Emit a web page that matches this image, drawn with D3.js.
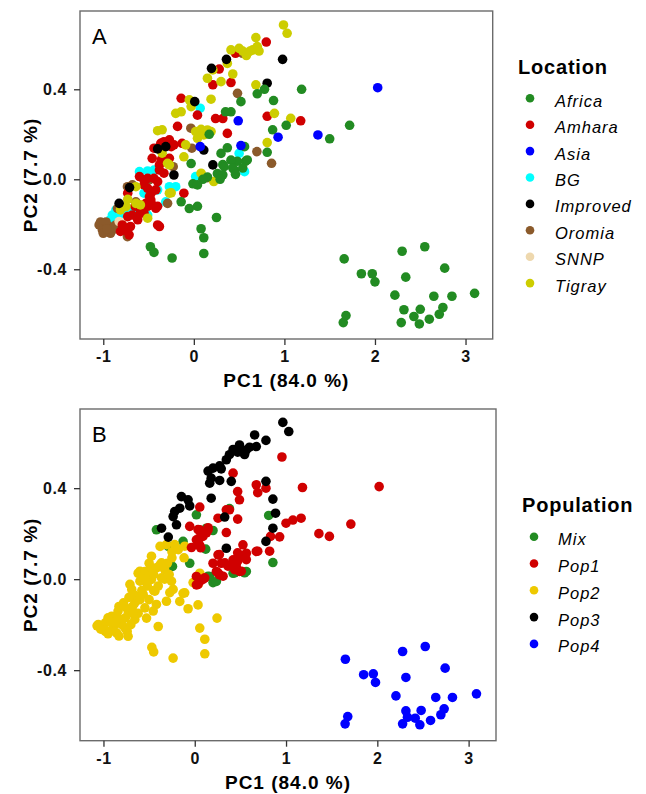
<!DOCTYPE html>
<html>
<head>
<meta charset="utf-8">
<script src="https://cdn.jsdelivr.net/npm/d3@7"></script>
<style>
  body { margin: 0; background: #fff; }
  text { font-family: "Liberation Sans", Arial, sans-serif; }
</style>
</head>
<body>
<div id="chart"></div>
<script>
// ---- data: PCA scores ----
var xTicks = [-1, 0, 1, 2, 3];
var yTicks = [-0.4, 0.0, 0.4];

// panel A, by location
var locationNames = ["Africa", "Amhara", "Asia", "BG", "Improved", "Oromia", "SNNP", "Tigray"];
var locationColors = ["#228B22", "#D00000", "#0000FF", "#00FFFF", "#000000", "#8B5A2B", "#EED8AE", "#CDCD00"];

var africa = [[1.19,0.40],[0.78,0.40],[0.70,0.38],[0.52,0.345],[0.88,0.35],[0.41,0.30],[0.35,0.30],[1.02,0.24],[0.87,0.22],[0.17,0.20],
  [0.81,0.12],[0.56,0.145],[0.57,0.08],[0.48,0.08],[0.30,0.115],[0.37,0.14],[0.41,0.085],[0.32,0.065],[0.45,0.04],[0.26,0.025],
  [0.15,0.01],[0.10,0.0],[-0.01,-0.02],[-0.03,0.07],[-0.14,-0.10],[-0.05,-0.13],[0.04,-0.12],[0.25,-0.17],[0.08,-0.22],[0.11,-0.26],
  [0.11,-0.33],[-0.48,-0.30],[-0.44,-0.325],[-0.24,-0.35],[1.50,0.18],[1.72,0.24],[0.59,0.086],[0.335,0.056],[0.43,0.05],[0.54,0.05],
  [0.46,0.022],[0.32,0.02],[0.29,0.0],[0.04,-0.025],
  [1.66,-0.354],[1.85,-0.42],[1.97,-0.42],[2.00,-0.456],[2.30,-0.32],[2.55,-0.30],[2.77,-0.395],[2.34,-0.435],[2.22,-0.515],[2.65,-0.52],
  [2.85,-0.52],[3.10,-0.507],[2.32,-0.58],[2.50,-0.578],[2.75,-0.57],[2.71,-0.60],[2.43,-0.61],[2.29,-0.637],[2.49,-0.643],[2.60,-0.622],
  [1.65,-0.637],[1.68,-0.606]];
var amhara = [[0.80,0.61],[0.46,0.56],[0.28,0.49],[0.21,0.42],[0.41,0.43],[-0.14,0.36],[0.04,0.285],[0.24,0.27],[0.32,0.27],[-0.18,0.235],
  [-0.33,0.167],[-0.27,0.175],[-0.22,0.153],[-0.13,0.16],[-0.44,0.138],[-0.36,0.086],[-0.46,0.093],[-0.55,-0.003],[-0.38,0.041],[-0.33,0.027],
  [-0.11,-0.062],[-0.42,-0.047],[-0.51,-0.04],[-0.475,-0.092],[-0.40,-0.12],[-0.51,-0.12],[-0.59,-0.15],[-0.38,-0.21],[-0.73,-0.062],[-0.70,-0.21],
  [-0.73,-0.166],[0.81,0.28],[1.18,0.26],[0.37,0.204],[-0.77,-0.225],[-0.365,0.16],[-0.25,0.145],[-0.27,0.093],[-0.38,0.064],[-0.60,0.012],
  [-0.51,0.004],[-0.44,0.004],[-0.55,-0.025],[-0.40,-0.01],[-0.49,-0.077],[-0.46,-0.114],[-0.53,-0.107],[-0.42,-0.129],[-0.60,-0.129],[-0.68,-0.159],
  [-0.79,-0.203],[-0.75,-0.218],[-0.81,-0.232],[-0.715,-0.247],[-0.40,-0.203],[-0.65,-0.12],[-0.62,-0.18],[-0.55,-0.15],[-0.47,-0.06]];
var asia = [[0.49,0.26],[0.52,0.15],[0.07,0.145],[0.93,0.187],[1.37,0.197],[2.03,0.407]];
var bg = [[0.07,0.316],[0.50,0.115],[0.56,0.034],[-0.60,0.034],[-0.51,0.037],[-0.44,0.041],[-0.27,-0.033],[-0.20,-0.033],[0.02,0.012],[-0.55,-0.062],
  [-0.40,-0.047],[-0.31,-0.10],[-0.86,-0.136],[-0.90,-0.159],[-0.79,-0.151],[-0.715,-0.136],[-0.585,-0.147],[-0.51,-0.159],[-0.88,-0.166],[-0.92,-0.18],
  [-0.83,-0.15],[-0.65,-0.14]];
var improved = [[0.98,0.533],[0.36,0.533],[0.195,0.493],[0.81,0.427],[0.01,0.345],[-0.40,0.135],[-0.31,0.145],[0.11,0.13],[0.21,0.064],[-0.22,0.019],
  [-0.71,-0.037],[-0.825,-0.107]];
var oromia = [[-1.046,-0.203],[-0.99,-0.203],[-0.935,-0.21],[-1.01,-0.225],[-0.954,-0.233],[-0.9,-0.225],[-0.862,-0.203],[-0.733,-0.255],[-0.678,-0.025],[-0.494,-0.003],
  [-0.64,-0.1],[-0.29,-0.107],[-0.228,0.056],[-0.033,0.227],[-0.022,0.138],[0.077,0.204],[0.482,0.382],[0.538,0.56],[0.696,0.123],[0.858,0.071],
  [-0.733,-0.033],[-0.843,-0.129],[0.151,0.007],[-1.03,-0.19],[-0.97,-0.19],[-0.92,-0.24],[-0.88,-0.215],[-1.0,-0.24],[-0.84,-0.22],[-0.96,-0.22]];
var snnp = [[-0.825,-0.188],[-0.79,-0.2]];
var tigray = [[0.99,0.686],[1.03,0.649],[0.685,0.63],[0.70,0.59],[0.59,0.56],[0.65,0.575],[0.50,0.582],[0.41,0.575],[0.37,0.515],[0.43,0.468],
  [0.30,0.434],[0.15,0.449],[0.21,0.486],[0.685,0.42],[0.19,0.356],[-0.05,0.353],[-0.03,0.323],[-0.14,0.30],[-0.20,0.293],[-0.40,0.216],
  [-0.35,0.22],[0.08,0.222],[0.15,0.219],[0.11,0.197],[0.04,0.182],[-0.09,0.153],[-0.11,0.10],[-0.35,0.116],[-0.29,0.071],[0.19,0.212],
  [0.89,0.293],[1.07,0.271],[0.81,0.163],[0.22,-0.01],[0.08,0.027],[-0.25,-0.06],[-0.51,-0.173],[-0.73,-0.089],[-0.75,-0.121],[-0.64,-0.033],
  [-0.59,-0.114],[0.54,0.57],[0.58,0.55],[0.62,0.57],[0.72,0.57],[-0.27,0.064],[-0.27,-0.062],[-0.64,-0.107],[-0.81,-0.136],[0.02,0.212]];

// panel B, by population
var populationNames = ["Mix", "Pop1", "Pop2", "Pop3", "Pop4"];
var populationColors = ["#228B22", "#D00000", "#EEC900", "#000000", "#0000FF"];

var mix = [[-0.42,0.217],[-0.29,0.144],[-0.128,0.166],[0.018,0.283],[0.128,0.224],[0.20,0.214],[0.12,0.132],[-0.055,0.07],[-0.244,0.056],[0.20,-0.015],
  [0.237,-0.01],[0.81,0.28],[0.856,0.073],[0.164,0.012],[0.38,0.31],[0.565,0.034],[0.42,0.026],[0.546,0.028],[0.437,0.028],[0.146,0.013]];
var pop1 = [[0.955,0.537],[1.18,0.403],[0.674,0.415],[0.78,0.40],[0.69,0.38],[0.47,0.385],[0.49,0.349],[0.42,0.466],[0.38,0.305],[0.346,0.305],
  [0.47,0.264],[0.255,0.268],[0.055,0.317],[-0.055,0.232],[0.055,0.217],[0.128,0.21],[0.09,0.188],[0.018,0.173],[-0.036,0.139],[0.055,0.148],
  [0.346,0.205],[0.146,0.217],[0.255,0.107],[0.20,0.07],[0.29,0.07],[0.42,0.085],[0.49,0.10],[0.565,0.114],[0.528,0.151],[0.674,0.122],
  [0.455,0.056],[0.49,0.034],[0.237,0.034],[0.273,0.019],[0.055,-0.01],[0.018,-0.025],[0.018,0.012],[0.83,0.188],[1.0,0.246],[1.075,0.26],
  [1.165,0.268],[1.36,0.20],[1.475,0.188],[2.02,0.407],[1.71,0.242],[0.93,0.186],[0.82,0.123],[0.69,0.123],[0.47,0.116],[0.27,0.108],
  [0.33,0.072],[0.364,0.057],[0.47,0.079],[0.565,0.086],[0.437,0.042],[0.51,0.035],[0.255,0.028],[0.31,0.013],[0.11,0.006],[0.036,-0.023],
  [0.09,-0.001],[0.036,0.218],[0.146,0.226],[0.055,0.182],[0.128,0.204],[0.036,0.152],[0.066,0.138]];
var pop2 = [[-0.237,-0.347],[-0.47,-0.30],[-0.45,-0.32],[0.11,-0.328],[0.11,-0.264],[0.055,-0.215],[0.244,-0.171],[0.036,-0.113],[-0.073,-0.13],[-0.164,-0.098],
  [-0.128,-0.062],[-0.273,-0.059],[-0.40,-0.208],[-0.528,-0.171],[0.055,0.026],[-0.018,-0.015],[-0.474,0.101],[-0.31,0.152],[-0.22,0.152],[-0.11,0.145],
  [-0.117,0.094],[-0.25,0.094],[-0.364,0.072],[-0.42,0.05],[-0.33,0.042],[-0.60,0.035],[-0.528,0.028],[-0.60,-0.009],[-0.474,-0.001],[-0.364,0.006],
  [-0.255,-0.009],[-0.237,-0.045],[-0.11,-0.06],[0.036,-0.023],[-0.71,-0.023],[-0.69,-0.045],[-0.565,-0.067],[-0.437,-0.053],[-0.42,-0.111],[-0.31,-0.097],
  [-0.78,-0.104],[-0.656,-0.104],[-0.546,-0.126],[-0.455,-0.14],[-0.84,-0.14],[-0.73,-0.14],[-0.91,-0.163],[-0.80,-0.177],[-0.656,-0.177],[-0.98,-0.192],
  [-1.056,-0.199],[-0.89,-0.207],[-0.765,-0.214],[-0.98,-0.229],[-0.856,-0.236],[-0.73,-0.251],[-1.07,-0.205],[-1.0,-0.22],[-0.93,-0.23],[-0.62,0.026],
  [-0.546,0.034],[-0.38,0.063],[-0.474,0.048],[-0.38,0.144],[-0.85,-0.17],[-0.76,-0.17],[-0.70,-0.2],[-0.62,-0.15],[-0.66,-0.07],[-0.52,-0.03],
  [-0.50,-0.09],[-0.80,-0.2],[-0.92,-0.19],[-0.95,-0.17],[-0.87,-0.19],[-0.83,-0.12],[-0.77,-0.12],[-0.72,-0.08],[-0.68,-0.12],[-0.60,-0.09],
  [-0.58,-0.05],[-0.55,0.0],[-0.45,0.02],[-0.40,-0.03],[-0.33,0.0],[-0.28,0.02],[-0.30,0.07],[-0.25,0.12],[-0.18,0.13],[-0.45,-0.05],
  [-0.50,0.07],[-0.68,-0.15],[-0.74,-0.23],[-0.83,-0.25],[-0.95,-0.24],[-1.03,-0.22]];
var pop3 = [[0.965,0.689],[1.03,0.649],[0.656,0.634],[0.78,0.61],[0.674,0.583],[0.565,0.568],[0.49,0.59],[0.42,0.57],[0.38,0.547],[0.346,0.525],
  [0.273,0.498],[0.20,0.488],[0.18,0.444],[0.273,0.434],[0.40,0.43],[0.164,0.422],[0.78,0.43],[0.856,0.352],[0.885,0.29],[0.856,0.224],
  [0.78,0.166],[0.346,0.136],[0.328,0.273],[-0.146,0.363],[-0.073,0.349],[-0.055,0.322],[-0.164,0.312],[-0.22,0.297],[-0.20,0.239],[-0.364,0.224],
  [-0.29,0.185],[0.18,0.356],[-0.237,0.275],[0.146,0.475],[0.47,0.558],[0.546,0.548],[0.29,0.485],[0.60,0.58],[0.52,0.56]];
var pop4 = [[1.65,-0.352],[1.85,-0.42],[1.956,-0.416],[1.98,-0.454],[2.277,-0.318],[2.525,-0.296],[2.743,-0.391],[2.313,-0.432],[2.204,-0.513],[2.64,-0.52],
  [2.823,-0.52],[3.086,-0.504],[2.313,-0.579],[2.48,-0.577],[2.732,-0.57],[2.696,-0.596],[2.415,-0.611],[2.277,-0.636],[2.466,-0.64],[2.583,-0.621],
  [1.647,-0.636],[1.676,-0.604],[2.33,-0.607]];

// ---- layout ----
var W = 646, H = 794;
var svg = d3.select("#chart").append("svg")
    .attr("width", W)
    .attr("height", H);

var panels = [
  { letter: "A", box: {l: 80, r: 492.7, t: 11, b: 339},
    title: "Location", names: locationNames, colors: locationColors,
    groups: [bg, oromia, snnp, amhara, tigray, improved, africa, asia],
    groupIdx: [3, 5, 6, 1, 7, 4, 0, 2],
    legend: {x: 530, titleY: 74, y0: 98.3, dy: 26.4, tx: 555} },
  { letter: "B", box: {l: 80, r: 496, t: 409, b: 740.7},
    title: "Population", names: populationNames, colors: populationColors,
    groups: [mix, pop2, pop1, pop3, pop4],
    groupIdx: [0, 2, 1, 3, 4],
    legend: {x: 534, titleY: 511.7, y0: 536.7, dy: 26.8, tx: 558} }
];

panels.forEach(function(p) {
  var b = p.box;
  var x = d3.scaleLinear().domain([-1.257, 3.30]).range([b.l, b.r]);
  var y = d3.scaleLinear().domain([-0.71, 0.748]).range([b.b, b.t]);
  var g = svg.append("g");

  // points
  p.groups.forEach(function(pts, k) {
    g.append("g").selectAll("circle")
      .data(pts)
      .enter()
      .append("circle")
        .attr("cx", function(d) { return x(d[0]); })
        .attr("cy", function(d) { return y(d[1]); })
        .attr("r", 4.8)
        .style("fill", p.colors[p.groupIdx[k]]);
  });

  // box
  g.append("rect")
    .attr("x", b.l).attr("y", b.t)
    .attr("width", b.r - b.l).attr("height", b.b - b.t)
    .style("fill", "none")
    .style("stroke", "#6b6b6b")
    .style("stroke-width", 1.4);

  // axes
  var xa = g.append("g")
    .attr("transform", "translate(0," + b.b + ")")
    .call(d3.axisBottom(x).tickValues(xTicks).tickSize(6).tickPadding(6));
  var ya = g.append("g")
    .attr("transform", "translate(" + b.l + ",0)")
    .call(d3.axisLeft(y).tickValues(yTicks).tickSize(6).tickPadding(7));
  [xa, ya].forEach(function(a) {
    a.select(".domain").remove();
    a.selectAll(".tick line").style("stroke", "#333").style("stroke-width", 1.3);
    a.selectAll(".tick text")
      .style("font-family", "'Liberation Sans', Arial, sans-serif")
      .style("font-size", "16px")
      .style("font-weight", "bold")
      .style("letter-spacing", "0.6px")
      .style("fill", "#111");
  });
  ya.selectAll(".tick text").text(function(d) { return d.toFixed(1); });
  xa.selectAll(".tick text").text(function(d) { return String(d); });

  // axis titles
  g.append("text")
    .attr("x", (b.l + b.r) / 2)
    .attr("y", b.b + 48)
    .attr("text-anchor", "middle")
    .style("font-size", "19px")
    .style("font-weight", "bold")
    .style("letter-spacing", "1px")
    .text("PC1 (84.0 %)");
  g.append("text")
    .attr("transform", "translate(37," + ((b.t + b.b) / 2) + ") rotate(-90)")
    .attr("text-anchor", "middle")
    .style("font-size", "19px")
    .style("font-weight", "bold")
    .style("letter-spacing", "1px")
    .text("PC2 (7.7 %)");

  // panel letter
  g.append("text")
    .attr("x", b.l + 12)
    .attr("y", b.t + 33)
    .style("font-size", "22px")
    .text(p.letter);

  // legend
  var L = p.legend;
  g.append("text")
    .attr("x", L.x - 12)
    .attr("y", L.titleY)
    .style("font-size", "20px")
    .style("font-weight", "bold")
    .style("letter-spacing", "0.8px")
    .text(p.title);
  var items = g.append("g").selectAll("g")
    .data(p.names)
    .enter()
    .append("g")
      .attr("transform", function(d, i) { return "translate(0," + (L.y0 + i * L.dy) + ")"; });
  items.append("circle")
    .attr("cx", L.x).attr("cy", 0).attr("r", 4.3)
    .style("fill", function(d, i) { return p.colors[i]; });
  items.append("text")
    .attr("x", L.tx).attr("y", 8.5)
    .style("font-size", "16.5px")
    .style("font-style", "italic")
    .style("letter-spacing", "1px")
    .text(function(d) { return d; });
});
</script>
</body>
</html>
